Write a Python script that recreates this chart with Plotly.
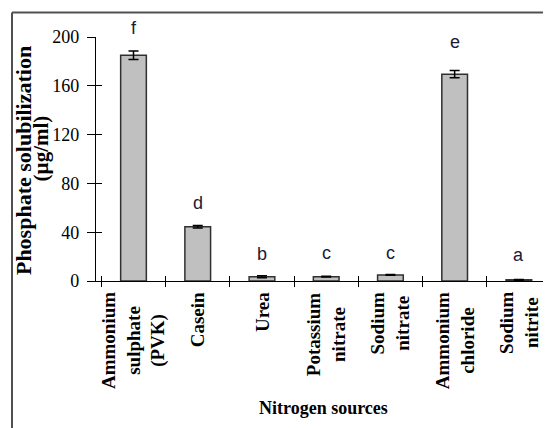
import plotly.graph_objects as go

categories = ["Ammonium sulphate (PVK)", "Casein", "Urea", "Potassium nitrate",
              "Sodium nitrate", "Ammonium chloride", "Sodium nitrite"]
tick_labels = ["Ammonium<br>sulphate<br>(PVK)", "Casein", "Urea", "Potassium<br>nitrate",
               "Sodium<br>nitrate", "Ammonium<br>chloride", "Sodium<br>nitrite"]
values = [185, 44.5, 3.5, 3.5, 5, 169.5, 1]
errors = [3.5, 1, 0.8, 0.3, 0.3, 3, 0.3]
letters = ["f", "d", "b", "c", "c", "e", "a"]
letter_y = [207, 64, 22.5, 23, 23, 196, 21]
y_ticks = [0, 40, 80, 120, 160, 200]
Y_MAX = 200

serif = "Liberation Serif, Times New Roman, serif"

fig = go.Figure()
fig.add_trace(go.Bar(
    x=categories, y=values, width=0.4,
    marker=dict(color="#c0c0c0", line=dict(color="#303030", width=1.5)),
    error_y=dict(type="data", array=errors, color="#000", thickness=1.5, width=5),
    showlegend=False, hoverinfo="skip"))
# invisible trace to carry overlay axes (crossing tick marks)
fig.add_trace(go.Scatter(x=categories, y=values, xaxis="x2", yaxis="y2", mode="markers",
                         marker=dict(size=0, opacity=0), showlegend=False, hoverinfo="skip"))

for c, lt, ly in zip(categories, letters, letter_y):
    fig.add_annotation(x=c, y=ly / Y_MAX, yref="paper", text=lt, showarrow=False,
                       yanchor="middle", xanchor="center",
                       font=dict(family="Liberation Sans Narrow, Liberation Sans, sans-serif",
                                 size=18, color="#1a1a3a"))

for c, tl in zip(categories, tick_labels):
    fig.add_annotation(x=c, y=-0.037, yref="paper", text=tl, showarrow=False,
                       textangle=-90, yanchor="top", xanchor="center", align="center",
                       font=dict(family=serif, size=19, color="#000", weight="bold"))

fig.add_annotation(x=0.5, y=-0.52, xref="paper", yref="paper", text="<b>Nitrogen sources</b>",
                   showarrow=False, xanchor="center", yanchor="middle",
                   font=dict(family=serif, size=18, color="#000"))
fig.add_annotation(x=-0.158, y=0.492, xref="paper", yref="paper",
                   text="<b>Phosphate solubilization</b>", showarrow=False, textangle=-90,
                   xanchor="center", yanchor="middle",
                   font=dict(family=serif, size=22, color="#000"))
fig.add_annotation(x=-0.12, y=0.545, xref="paper", yref="paper",
                   text="<b>(µg/ml)</b>", showarrow=False, textangle=-90,
                   xanchor="center", yanchor="middle",
                   font=dict(family=serif, size=21, color="#000"))

# frame of the figure crop
fig.add_shape(type="line", xref="paper", yref="paper", x0=-0.1846, x1=1.01, y0=1.1004, y1=1.1004,
              line=dict(color="#505050", width=2))
fig.add_shape(type="line", xref="paper", yref="paper", x0=-0.1846, x1=-0.1846, y0=1.1004, y1=-0.62,
              line=dict(color="#505050", width=2))

fig.update_layout(
    width=543, height=420,
    margin=dict(l=88, r=0, t=29, b=147),
    paper_bgcolor="white", plot_bgcolor="white",
    bargap=0.6,
    xaxis=dict(type="category", categoryarray=categories, showticklabels=False,
               showline=True, linecolor="#000", linewidth=1.2, ticks="outside", ticklen=5,
               tickson="boundaries", tickcolor="#000", tickwidth=1.2, showgrid=False,
               zeroline=False, fixedrange=True),
    xaxis2=dict(type="category", categoryarray=categories, overlaying="x", matches="x",
                showticklabels=False, showline=False, ticks="inside", ticklen=5,
                tickson="boundaries", tickcolor="#000", tickwidth=1.2, showgrid=False,
                zeroline=False, side="bottom"),
    yaxis=dict(range=[0, Y_MAX], tickvals=y_ticks, showline=True, linecolor="#000", linewidth=1.2,
               ticks="outside", ticklen=8, tickcolor="#000", tickwidth=1.2, showgrid=False,
               zeroline=False, ticklabelstandoff=4,
               tickfont=dict(family=serif, size=18, color="#000")),
    yaxis2=dict(range=[0, Y_MAX], tickvals=y_ticks, overlaying="y", matches="y", showticklabels=False,
                showline=False, ticks="inside", ticklen=6, tickcolor="#000", tickwidth=1.2,
                showgrid=False, zeroline=False, side="left"),
)

fig.write_html("out.html")
